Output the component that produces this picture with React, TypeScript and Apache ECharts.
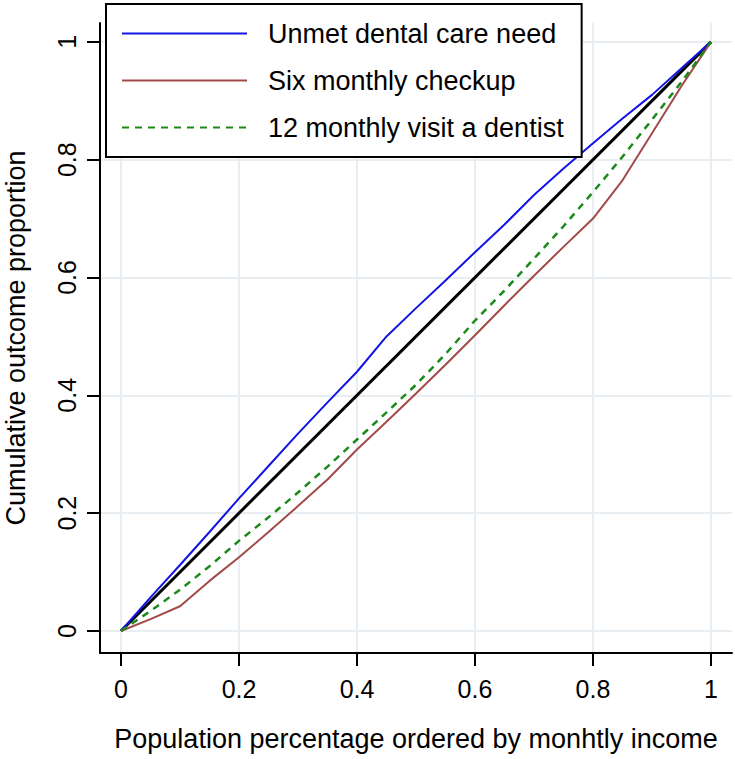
import React, { useEffect, useRef } from "react";
import * as echarts from "echarts";

// Population share (x) at which the concentration curves are read
const popShare = [0, 0.05, 0.1, 0.15, 0.2, 0.25, 0.3, 0.35, 0.4, 0.45, 0.5, 0.55, 0.6, 0.65, 0.7, 0.75, 0.8, 0.85, 0.9, 0.95, 1];
const unmetNeed = [0, 0.057, 0.112, 0.168, 0.225, 0.28, 0.335, 0.388, 0.44, 0.5, 0.548, 0.595, 0.643, 0.69, 0.74, 0.785, 0.828, 0.87, 0.91, 0.955, 1];
const sixMonthly = [0, 0.02, 0.042, 0.085, 0.125, 0.168, 0.212, 0.257, 0.308, 0.355, 0.403, 0.452, 0.502, 0.553, 0.603, 0.652, 0.7, 0.765, 0.845, 0.925, 1];
const twelveMonthly = [0, 0.034, 0.07, 0.11, 0.153, 0.193, 0.235, 0.279, 0.325, 0.371, 0.418, 0.47, 0.527, 0.578, 0.632, 0.687, 0.745, 0.805, 0.868, 0.932, 1];
const equalityX = [0, 1];
const equalityY = [0, 1];
const tickValues = [0, 0.2, 0.4, 0.6, 0.8, 1];
const seriesNames = ["Unmet dental care need", "Six monthly checkup", "12 monthly visit a dentist"];

const FONT = "'Liberation Sans', Arial, sans-serif";

export default function App() {
  const ref = useRef<HTMLDivElement>(null);
  useEffect(() => {
    if (!ref.current) return;
    const chart = echarts.init(ref.current, undefined, { renderer: "svg" });
    const pair = (xs: number[], ys: number[]) => xs.map((x, i) => [x, ys[i]]);
    const axisCommon = {
      type: "value" as const,
      nameLocation: "middle" as const,
      nameTextStyle: { fontFamily: FONT, fontSize: 27, color: "#000" },
      axisLine: { show: true, onZero: false, lineStyle: { color: "#000", width: 2 } },
      axisTick: { show: true, length: 13, lineStyle: { color: "#000", width: 2 }, customValues: tickValues },
      axisLabel: { fontFamily: FONT, fontSize: 25, color: "#000", customValues: tickValues, showMinLabel: true, showMaxLabel: true },
      splitLine: { show: true, lineStyle: { color: "#e8eef1", width: 2 } },
    };
    chart.setOption({
      animation: false,
      backgroundColor: "#fff",
      grid: { left: 100, right: 3, top: 23, bottom: 106, containLabel: false, outerBoundsMode: "none" },
      xAxis: {
        ...axisCommon,
        name: "Population percentage ordered by monhtly income",
        nameGap: 72,
        min: -0.0356,
        max: 1.0356,
        axisLabel: { ...axisCommon.axisLabel, margin: 23 },
      },
      yAxis: {
        ...axisCommon,
        name: "Cumulative outcome proportion",
        nameGap: 71,
        min: -0.0374,
        max: 1.032,
        axisLabel: { ...axisCommon.axisLabel, margin: 21, rotate: 90 },
      },
      legend: {
        data: seriesNames,
        orient: "vertical",
        left: 106,
        top: 4,
        padding: [16, 18, 16, 15],
        itemWidth: 125,
        itemHeight: 14,
        itemGap: 20,
        backgroundColor: "#fff",
        borderColor: "#000",
        borderWidth: 2,
        borderRadius: 0,
        itemStyle: { opacity: 0 },
        textStyle: { fontFamily: FONT, fontSize: 27, color: "#000", lineHeight: 27, padding: [0, 0, 0, 16] },
        z: 10,
      },
      series: [
        {
          name: "Equality",
          type: "line",
          data: pair(equalityX, equalityY),
          symbol: "none",
          lineStyle: { color: "#000", width: 3 },
          z: 1,
        },
        {
          name: seriesNames[0],
          type: "line",
          data: pair(popShare, unmetNeed),
          symbol: "none",
          itemStyle: { color: "#1414e6" },
          lineStyle: { color: "#1414e6", width: 2 },
          z: 2,
        },
        {
          name: seriesNames[1],
          type: "line",
          data: pair(popShare, sixMonthly),
          symbol: "none",
          itemStyle: { color: "#a24a4a" },
          lineStyle: { color: "#a24a4a", width: 2 },
          z: 2,
        },
        {
          name: seriesNames[2],
          type: "line",
          data: pair(popShare, twelveMonthly),
          symbol: "none",
          itemStyle: { color: "#1b8a1b" },
          lineStyle: { color: "#1b8a1b", width: 2.5, type: [7, 6] },
          z: 2,
        },
      ],
    });
    return () => chart.dispose();
  }, []);
  return <div ref={ref} style={{ position: "fixed", left: 0, top: 0, width: 735, height: 759 }} />;
}
